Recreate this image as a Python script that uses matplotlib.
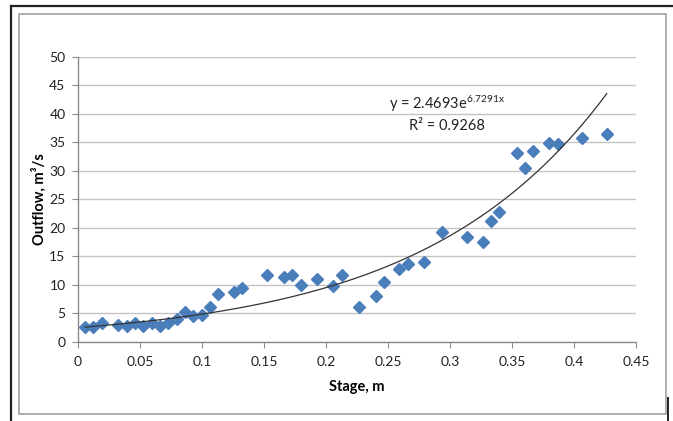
import numpy as np
import matplotlib
matplotlib.use("Agg")
import matplotlib.pyplot as plt
from matplotlib.lines import Line2D
from matplotlib.patches import Rectangle

plt.rcParams['font.family'] = ['Lato', 'DejaVu Sans']

stage = [0.0056, 0.0123, 0.0191, 0.0325, 0.0393, 0.046, 0.0527, 0.0594,
         0.0661, 0.0728, 0.0796, 0.0863, 0.093, 0.0998, 0.1065, 0.1131,
         0.1258, 0.1325, 0.1527, 0.1661, 0.1728, 0.1796, 0.193, 0.206,
         0.2127, 0.2266, 0.240, 0.2468, 0.2591, 0.2659, 0.2793, 0.2933,
         0.3135, 0.3264, 0.3331, 0.3398, 0.3538, 0.3605, 0.3672, 0.3801,
         0.3869, 0.4067, 0.4264]
outflow = [2.6, 2.5, 3.3, 2.9, 2.75, 3.3, 2.75, 3.2,
           2.75, 3.3, 3.9, 5.25, 4.5, 4.7, 6.1, 8.4,
           8.8, 9.5, 11.7, 11.3, 11.7, 10.0, 10.95, 9.8,
           11.7, 6.1, 8.0, 10.5, 12.75, 13.6, 14.0, 19.2,
           18.3, 17.5, 21.2, 22.8, 33.05, 30.4, 33.5, 34.8,
           34.7, 35.7, 36.4]

# exponential trendline as printed on the chart
coef_a = 2.4693
coef_b = 6.7291
r_squared = 0.9268

x_ticks = [0, 0.05, 0.1, 0.15, 0.2, 0.25, 0.3, 0.35, 0.4, 0.45]
x_labels = ["0", "0.05", "0.1", "0.15", "0.2", "0.25", "0.3", "0.35", "0.4", "0.45"]
y_ticks = list(range(0, 51, 5))

W, H = 673, 421
fig = plt.figure(figsize=(W / 100, H / 100), dpi=100)
ax = fig.add_axes([78 / W, 1 - 341.7 / H, (636 - 78) / W, (341.7 - 56.7) / H])

ax.set_xlim(0, 0.45)
ax.set_ylim(0, 50)
ax.set_yticks(y_ticks)
ax.set_xticks(x_ticks)
ax.set_xticklabels(x_labels)

ax.grid(axis='y', color='#c4c4c4', linewidth=1.0)
ax.set_axisbelow(True)
for s in ['top', 'right']:
    ax.spines[s].set_visible(False)
for s in ['left', 'bottom']:
    ax.spines[s].set_color('#8c8c8c')
    ax.spines[s].set_linewidth(1.0)
ax.tick_params(axis='both', direction='out', length=4, color='#8c8c8c',
               labelsize=10, labelcolor='#222222', pad=6)
ax.tick_params(axis='y', pad=5)

ax.plot(stage, outflow, linestyle='none', marker='D', markersize=6.3,
        color='#4a7ebb', markeredgecolor='#4a7ebb', zorder=3)

xt = np.linspace(min(stage), max(stage), 200)
ax.plot(xt, coef_a * np.exp(coef_b * xt), color='#333333', linewidth=0.9, zorder=4)

ax.text(0.2976, 41.7, "y = %.4fe$\\mathregular{^{%.4fx}}$" % (coef_a, coef_b),
        ha='center', va='center', fontsize=10.5, color='#222222')
ax.text(0.2976, 37.8, "R² = %.4f" % r_squared, ha='center', va='center',
        fontsize=10.5, color='#222222')

ax.set_xlabel("Stage, m", fontsize=10.5, fontweight='bold', labelpad=9)
ax.set_ylabel("Outflow, m³/s", fontsize=10.5, fontweight='bold', labelpad=2)

# frame decorations
fig.add_artist(Rectangle((19 / W, 1 - 414 / H), (666 - 19) / W, (414 - 14) / H,
                         transform=fig.transFigure, fill=False,
                         edgecolor='#a0a0a0', linewidth=1.2))
fig.add_artist(Line2D([11 / W, 11 / W], [0, 1 - 5.5 / H], transform=fig.transFigure,
                      color='#222222', linewidth=1.6))
fig.add_artist(Line2D([11 / W, 1], [1 - 5.5 / H, 1 - 5.5 / H], transform=fig.transFigure,
                      color='#222222', linewidth=1.6))
fig.add_artist(Line2D([668 / W, 668 / W], [1 - 398 / H, 0], transform=fig.transFigure,
                      color='#222222', linewidth=1.4))

fig.savefig("out.png", dpi=100)
